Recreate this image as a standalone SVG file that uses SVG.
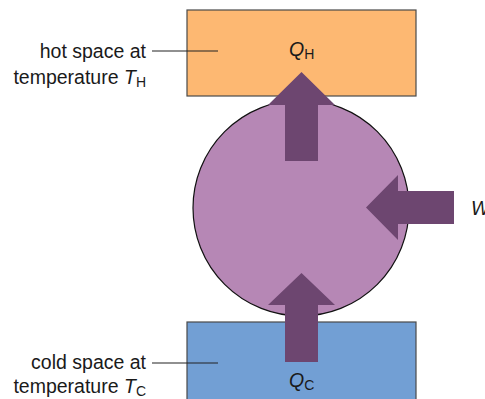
<svg xmlns="http://www.w3.org/2000/svg" width="485" height="399" viewBox="0 0 485 399">
<style>
.box{stroke:#4a4a4a;stroke-width:1.2}
.arrow{fill:#6d4670}
.lead{stroke:#222;stroke-width:1.2;fill:none}
text{font-family:"Liberation Sans",Arial,sans-serif;font-size:19.5px;fill:#1a1a1a}
.sub{font-size:14px}
.it{font-style:italic}
</style>
<rect width="485" height="399" fill="#ffffff"/>
<g id="hot">
<rect class="box" x="187" y="10" width="229" height="86" fill="#fdb872"/>
<text x="289" y="56"><tspan class="it">Q</tspan><tspan class="sub" dy="3">H</tspan></text>
</g>
<g id="cold">
<rect class="box" x="187" y="322" width="229" height="90" fill="#729fd4"/>
<text x="289" y="387"><tspan class="it">Q</tspan><tspan class="sub" dy="3">C</tspan></text>
</g>
<g id="engine">
<circle cx="301" cy="208" r="108" fill="#b687b5" stroke="#111" stroke-width="1.2"/>
</g>
<g id="labels">
<text x="146" y="58" text-anchor="end">hot space at</text>
<text x="146" y="84" text-anchor="end">temperature <tspan class="it">T</tspan><tspan class="sub" dy="3">H</tspan></text>
<text x="146" y="369" text-anchor="end">cold space at</text>
<text x="146" y="393" text-anchor="end">temperature <tspan class="it">T</tspan><tspan class="sub" dy="3">C</tspan></text>
<text x="471" y="215" class="it">W</text>
</g>
<g id="connectors">
<line class="lead" x1="152" y1="51" x2="218" y2="51"/>
<line class="lead" x1="152" y1="363" x2="218" y2="363"/>
<polygon class="arrow" points="285,161 285,105 268,105 301.5,72 335,105 318,105 318,161"/>
<polygon class="arrow" points="285,362 285,305 268,305 301.5,273 335,305 318,305 318,362"/>
<polygon class="arrow" points="454,191 398,191 398,175 366,207.5 398,240 398,224 454,224"/>
</g>
</svg>
